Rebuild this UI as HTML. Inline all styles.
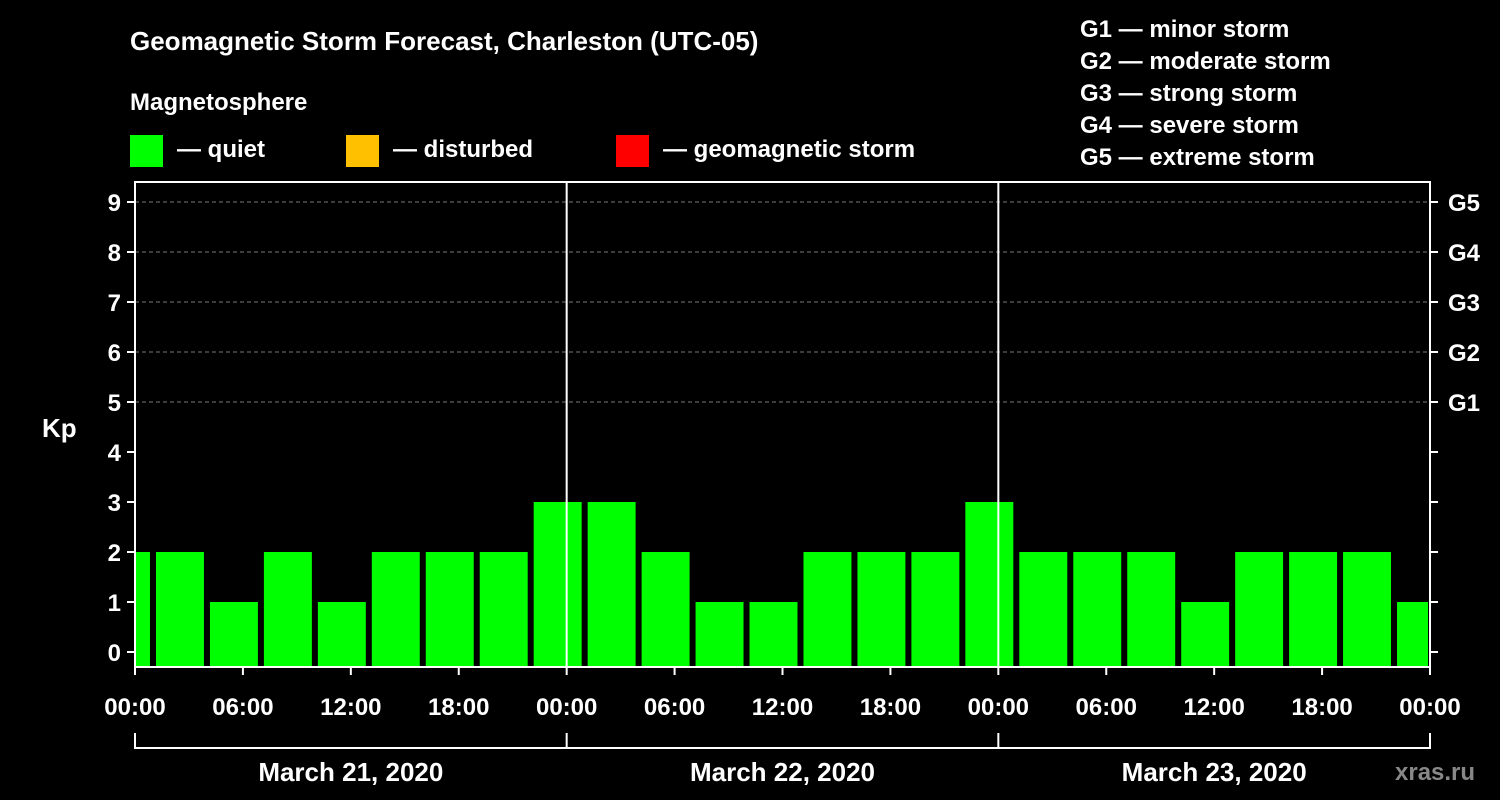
<!DOCTYPE html>
<html><head><meta charset="utf-8"><style>
html,body{margin:0;padding:0;background:#000;}
svg{display:block;font-family:"Liberation Sans",Arial,sans-serif;font-weight:bold;}
</style></head><body>
<svg id="c" width="1500" height="800" viewBox="0 0 1500 800">
<text x="130" y="50" fill="#fff" font-size="26">Geomagnetic Storm Forecast, Charleston (UTC-05)</text>
<text x="130" y="110" fill="#fff" font-size="24">Magnetosphere</text>
<g><rect x="130" y="135" width="33" height="32" fill="#00ff00"/><text x="177" y="157" fill="#fff" font-size="24">— quiet</text></g>
<g><rect x="346" y="135" width="33" height="32" fill="#ffc000"/><text x="393" y="157" fill="#fff" font-size="24">— disturbed</text></g>
<g><rect x="616" y="135" width="33" height="32" fill="#ff0000"/><text x="663" y="157" fill="#fff" font-size="24">— geomagnetic storm</text></g>
<g fill="#fff" font-size="24">
<text x="1080" y="37">G1 — minor storm</text><text x="1080" y="69">G2 — moderate storm</text><text x="1080" y="101">G3 — strong storm</text><text x="1080" y="133">G4 — severe storm</text><text x="1080" y="165">G5 — extreme storm</text>
</g>
<text x="42" y="437" fill="#fff" font-size="26">Kp</text>
<text x="1395" y="780" fill="#888" font-size="24">xras.ru</text>
<g id="grid"></g><g id="bars"></g><g id="axes"></g>
</svg>
<script>
const kpValues=[2,2,1,2,1,2,2,2,3,3,2,1,1,2,2,2,3,2,2,2,1,2,2,2,1];
const slotStartHours=[-2,1,4,7,10,13,16,19,22,25,28,31,34,37,40,43,46,49,52,55,58,61,64,67,70];
const xTickLabels=["00:00","06:00","12:00","18:00","00:00","06:00","12:00","18:00","00:00","06:00","12:00","18:00","00:00"];
const dateLabels=["March 21, 2020","March 22, 2020","March 23, 2020"];
const gLabels=["G1","G2","G3","G4","G5"];
const NS="http://www.w3.org/2000/svg";
const L=135,R=1430,T=182,B=667;
const x=h=>L+(h/72)*(R-L);
const y=k=>652-k*50;
function mk(tag,attrs,parent,text){const e=document.createElementNS(NS,tag);for(const k in attrs)e.setAttribute(k,attrs[k]);if(text!==undefined)e.textContent=text;parent.appendChild(e);return e;}
const grid=document.getElementById('grid'),bars=document.getElementById('bars'),axes=document.getElementById('axes');
for(let k=5;k<=9;k++){const l=mk('line',{x1:L,x2:R,y1:y(k),y2:y(k),stroke:'#777','stroke-dasharray':'4,3','stroke-width':1},grid);

}
kpValues.forEach((v,i)=>{let x0=x(slotStartHours[i])+3,x1=x(slotStartHours[i]+3)-3;x0=Math.max(x0,L);x1=Math.min(x1,R-2);
const r=mk('rect',{x:x0,y:y(v),width:x1-x0,height:B-y(v),fill:v>=5?'#ff0000':(v>=4?'#ffc000':'#00ff00')},bars);

});
const frame=mk('rect',{x:L,y:T,width:R-L,height:B-T,fill:'none',stroke:'#fff','stroke-width':2},axes);


[24,48].forEach(h=>{const l=mk('line',{x1:x(h),x2:x(h),y1:T,y2:B,stroke:'#fff','stroke-width':2},axes);

});
for(let k=0;k<=9;k++){mk('line',{x1:L-8,x2:L,y1:y(k),y2:y(k),stroke:'#fff','stroke-width':2},axes);
mk('line',{x1:R,x2:R+8,y1:y(k),y2:y(k),stroke:'#fff','stroke-width':2},axes);
const t=mk('text',{x:L-14,y:y(k)+9,fill:'#fff','font-size':24,'text-anchor':'end'},axes,String(k));

}
gLabels.forEach((g,i)=>{const t=mk('text',{x:R+18,y:y(5+i)+9,fill:'#fff','font-size':24},axes,g);

});
xTickLabels.forEach((s,i)=>{const h=i*6;mk('line',{x1:x(h),x2:x(h),y1:B,y2:B+8,stroke:'#fff','stroke-width':2},axes);
const t=mk('text',{x:x(h),y:715,fill:'#fff','font-size':24,'text-anchor':'middle'},axes,s);

});
const br=mk('line',{x1:L,x2:R,y1:748,y2:748,stroke:'#fff','stroke-width':2},axes);


[0,24,48,72].forEach(h=>mk('line',{x1:x(h),x2:x(h),y1:733,y2:749,stroke:'#fff','stroke-width':2},axes));
dateLabels.forEach((d,i)=>{const t=mk('text',{x:x(i*24+12),y:781,fill:'#fff','font-size':26,'text-anchor':'middle'},axes,d);

});
</script>
</body></html>
